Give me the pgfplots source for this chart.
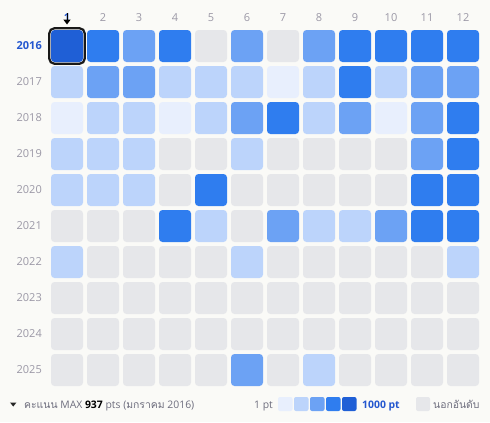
\documentclass[border=0pt]{standalone}
\usepackage{pgfplots}
\pgfplotsset{compat=1.18}
\usepackage{pgfplotstable}
\usepackage{fontspec}
\setmainfont{Open Sans}
\newfontfamily\thai[Script=Thai]{Loma}
\usetikzlibrary{backgrounds}
\definecolor{bgc}{HTML}{FAFAF7}
\definecolor{g0}{HTML}{E6E7EA}
\definecolor{g1}{HTML}{E8EFFD}
\definecolor{g2}{HTML}{BCD4FB}
\definecolor{g3}{HTML}{6CA2F4}
\definecolor{g4}{HTML}{2F7DEF}
\definecolor{g5}{HTML}{1F5FD6}
\definecolor{lab}{HTML}{9B98A6}
\definecolor{hl}{HTML}{2457CF}
\definecolor{leg}{HTML}{6E6E7E}

\newcommand\rrpath[1]{%
 \pgfpathmoveto{\pgfpoint{-\pgfplotmarksize+#1}{-\pgfplotmarksize}}%
 \pgfpathlineto{\pgfpoint{\pgfplotmarksize-#1}{-\pgfplotmarksize}}%
 \pgfpatharc{270}{360}{#1}%
 \pgfpathlineto{\pgfpoint{\pgfplotmarksize}{\pgfplotmarksize-#1}}%
 \pgfpatharc{0}{90}{#1}%
 \pgfpathlineto{\pgfpoint{-\pgfplotmarksize+#1}{\pgfplotmarksize}}%
 \pgfpatharc{90}{180}{#1}%
 \pgfpathlineto{\pgfpoint{-\pgfplotmarksize}{-\pgfplotmarksize+#1}}%
 \pgfpatharc{180}{270}{#1}%
 \pgfpathclose}
\pgfdeclareplotmark{rsq}{\rrpath{3.5bp}\pgfusepathqfill}
\pgfdeclareplotmark{rsqd}{\rrpath{5bp}\pgfusepathqfillstroke}

% x = month, y = year index (0 = 2016 ... 9 = 2025), c = colour level
\pgfplotstableread{
x y c
1 0 L5
2 0 L4
3 0 L3
4 0 L4
5 0 L0
6 0 L3
7 0 L0
8 0 L3
9 0 L4
10 0 L4
11 0 L4
12 0 L4
1 1 L2
2 1 L3
3 1 L3
4 1 L2
5 1 L2
6 1 L2
7 1 L1
8 1 L2
9 1 L4
10 1 L2
11 1 L3
12 1 L3
1 2 L1
2 2 L2
3 2 L2
4 2 L1
5 2 L2
6 2 L3
7 2 L4
8 2 L2
9 2 L3
10 2 L1
11 2 L3
12 2 L4
1 3 L2
2 3 L2
3 3 L2
4 3 L0
5 3 L0
6 3 L2
7 3 L0
8 3 L0
9 3 L0
10 3 L0
11 3 L3
12 3 L4
1 4 L2
2 4 L2
3 4 L2
4 4 L0
5 4 L4
6 4 L0
7 4 L0
8 4 L0
9 4 L0
10 4 L0
11 4 L4
12 4 L4
1 5 L0
2 5 L0
3 5 L0
4 5 L4
5 5 L2
6 5 L0
7 5 L3
8 5 L2
9 5 L2
10 5 L3
11 5 L4
12 5 L4
1 6 L2
2 6 L0
3 6 L0
4 6 L0
5 6 L0
6 6 L2
7 6 L0
8 6 L0
9 6 L0
10 6 L0
11 6 L0
12 6 L2
1 7 L0
2 7 L0
3 7 L0
4 7 L0
5 7 L0
6 7 L0
7 7 L0
8 7 L0
9 7 L0
10 7 L0
11 7 L0
12 7 L0
1 8 L0
2 8 L0
3 8 L0
4 8 L0
5 8 L0
6 8 L0
7 8 L0
8 8 L0
9 8 L0
10 8 L0
11 8 L0
12 8 L0
1 9 L0
2 9 L0
3 9 L0
4 9 L0
5 9 L0
6 9 L3
7 9 L0
8 9 L2
9 9 L0
10 9 L0
11 9 L0
12 9 L0
}\heat

\begin{document}
\begin{tikzpicture}
\begin{axis}[
  scale only axis, width=432bp, height=360bp,
  xmin=0.5, xmax=12.5, ymin=-0.5, ymax=9.5,
  y dir=reverse, clip=false,
  axis line style={draw=none}, tick style={draw=none},
  xticklabel pos=upper,
  xtick={1,...,12},
  xticklabels={{\color{hl}\bfseries 1},2,3,4,5,6,7,8,9,10,11,12},
  ytick={0,...,9},
  yticklabels={{\color{hl}\bfseries 2016},2017,2018,2019,2020,2021,2022,2023,2024,2025},
  xticklabel style={anchor=base, yshift=6.5bp, inner sep=0pt, font=\fontsize{11bp}{13bp}\selectfont, text=lab},
  yticklabel style={anchor=east, inner sep=0pt, xshift=-7bp, font=\fontsize{11bp}{13bp}\selectfont, text=lab},
]
\addplot[only marks, mark=rsqd, mark size=17.7bp, mark options={fill=white, draw=black!90, line width=2.2bp}] coordinates {(1,0)};
\addplot[scatter, only marks, mark=rsq, mark size=16bp,
  point meta=explicit symbolic,
  scatter/classes={
    L0={fill=g0, draw=none}, L1={fill=g1, draw=none}, L2={fill=g2, draw=none},
    L3={fill=g3, draw=none}, L4={fill=g4, draw=none}, L5={fill=g5, draw=none}}]
  table[x=x, y=y, meta=c] {\heat};
\coordinate (O) at (axis cs:-0.8611111,-1.2777778);
\end{axis}
\begin{scope}[shift={(O)}, x=1bp, y=-1bp]
  \begin{pgfonlayer}{background}
    \fill[bgc] (0,0) rectangle (490,422);
  \end{pgfonlayer}
  % arrow over selected month
  \draw[black, line width=0.9bp] (67,13) -- (67,20);
  \fill[black] (63.3,19.5) -- (70.7,19.5) -- (67,24.5) -- cycle;
  % bottom caption
  \fill[black!85] (10,402.5) -- (16.5,402.5) -- (13.25,406.5) -- cycle;
  \node[anchor=base west, inner sep=0pt, text=leg, font=\fontsize{10.4bp}{12bp}\selectfont] at (24,408.5)
    {{\thai คะแนน} MAX {\color{black}\bfseries 937} pts ({\thai มกราคม} 2016)};
  \node[anchor=base west, inner sep=0pt, text=leg, font=\fontsize{10.4bp}{12bp}\selectfont] at (254,408.5) {1 pt};
  \fill[g1, rounded corners=2bp] (278,397) rectangle (292.5,411);
  \fill[g2, rounded corners=2bp] (294,397) rectangle (308.5,411);
  \fill[g3, rounded corners=2bp] (310,397) rectangle (324.5,411);
  \fill[g4, rounded corners=2bp] (326,397) rectangle (340.5,411);
  \fill[g5, rounded corners=2bp] (342,397) rectangle (356.5,411);
  \node[anchor=base west, inner sep=0pt, text=hl, font=\fontsize{10.4bp}{12bp}\selectfont\bfseries] at (362,408.5) {1000 pt};
  \fill[g0, rounded corners=2bp] (416,397) rectangle (430,411);
  \node[anchor=base west, inner sep=0pt, text=leg, font=\fontsize{10.4bp}{12bp}\selectfont] at (433,408.5) {{\thai นอกอันดับ}};
\end{scope}
\end{tikzpicture}
\end{document}
